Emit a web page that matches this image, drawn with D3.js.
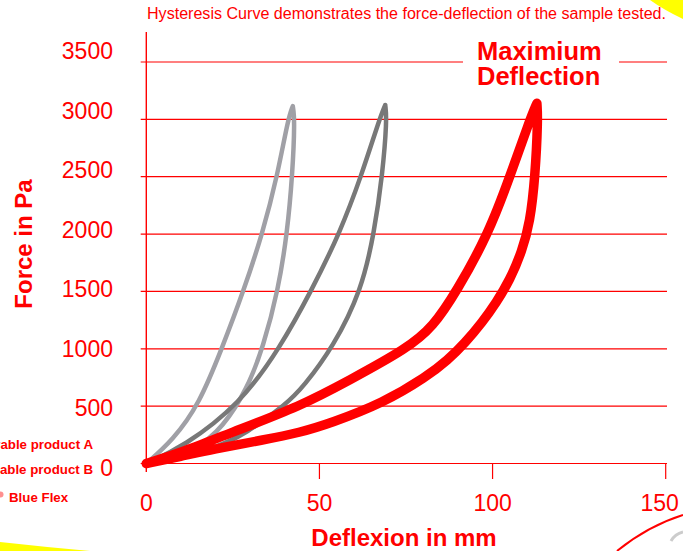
<!DOCTYPE html>
<html><head><meta charset="utf-8">
<script src="https://cdn.jsdelivr.net/npm/d3@7/dist/d3.min.js"></script>
<style>html,body{margin:0;padding:0;background:#fff;overflow:hidden}svg{display:block}</style>
</head><body>
<svg id="c" width="683" height="551"></svg>
<script>
// ---- data ----
const xTicks = [0, 50, 100, 150];
const yTicks = [0, 500, 1000, 1500, 2000, 2500, 3000, 3500];
const legendLabels = ["Comparable product A", "Comparable product B", "Blue Flex"];
const titleText = "Hysteresis Curve demonstrates the force-deflection of the sample tested.";
const xTitle = "Deflexion in mm";
const yTitle = "Force in Pa";
const noteLines = ["Maximium", "Deflection"];

// [deflection mm, force Pa]; each branch runs from origin up to the peak
// product A (light grey)
const productALoad   = [[0,0],[7.7,205],[15.3,518],[21.9,1007],[28.2,1513],[33.6,2010],[37.9,2515],[40.9,3000],[42.3,3115]];
const productAUnload = [[0,0],[14.6,118],[22.2,321],[29.0,641],[33.8,1018],[38.1,1513],[40.7,2010],[42.2,2515],[42.9,3000],[42.3,3115]];
// product B (dark grey)
const productBLoad   = [[0,0],[10.7,145],[27.1,519],[38.6,1007],[47.8,1513],[55.9,2010],[62.2,2515],[67.3,3000],[69.0,3125]];
const productBUnload = [[0,0],[19.3,118],[29.0,266],[40.5,519],[45.3,667],[54.0,1016],[62.2,1513],[65.8,2010],[68.2,2515],[69.5,3000],[69.0,3125]];
// Blue Flex (red)
const blueFlexLoad   = [[0,0],[9.7,91],[24.2,266],[44.6,500],[58.8,728],[75.2,1000],[82.8,1190],[89.6,1500],[98.8,2000],[105.0,2500],[110.8,3000],[112.8,3140]];
const blueFlexUnload = [[0,0],[9.7,60],[19.3,125],[33.8,205],[44.4,270],[53.1,350],[68.4,527],[81.0,757],[87.0,900],[92.0,1050],[97.0,1230],[101.0,1400],[105.0,1600],[108.5,1850],[110.8,2100],[112.3,2500],[113.1,3000],[112.8,3140]];

// ---- drawing ----
const svg = d3.select("#c");
const RED = "#ff0000";
const FONT = "Liberation Sans, Arial, sans-serif";
const x = d3.scaleLinear().domain([0, 150]).range([146.3, 665.7]);
const y = d3.scaleLinear().domain([0, 3500]).range([463.5, 62]);
const yLab = d3.scaleLinear().domain([0, 3500]).range([476, 59]);

// decorations
svg.append("path").attr("d", "M650,0 L683,0 L683,19 Q664,10 650,0 Z").attr("fill", "#ffff00");
svg.append("path").attr("d", "M0,542 Q45,547 90,551 L0,551 Z").attr("fill", "#ffff00");
svg.append("path").attr("d", "M617,551 Q648,526 683,515").attr("fill", "none").attr("stroke", RED).attr("stroke-width", 2);
svg.append("path").attr("d", "M671,541 Q675,534 683,532").attr("fill", "none").attr("stroke", "#cccccc").attr("stroke-width", 3);

// title
svg.append("text").attr("x", 147).attr("y", 18.5).attr("fill", RED)
  .attr("font-family", FONT).attr("font-size", 16)
  .attr("textLength", 519).attr("lengthAdjust", "spacingAndGlyphs").text(titleText);

// gridlines
const grid = svg.append("g").attr("stroke", RED).attr("stroke-width", 1.2);
yTicks.forEach(v => {
  const segs = v === 3500 ? [[140.7, 463], [619, 667]] : [[140.7, 667]];
  segs.forEach(s => grid.append("line").attr("x1", s[0]).attr("x2", s[1]).attr("y1", y(v)).attr("y2", y(v)));
});
// y axis line
svg.append("line").attr("x1", x(0)).attr("x2", x(0)).attr("y1", 32).attr("y2", 472).attr("stroke", RED).attr("stroke-width", 1.4);
// x ticks
xTicks.filter(v => v > 0).forEach(v => {
  svg.append("line").attr("x1", x(v)).attr("x2", x(v)).attr("y1", y(0)).attr("y2", 479).attr("stroke", RED).attr("stroke-width", 1.2);
});

// tick labels
svg.append("g").selectAll("text").data(xTicks).join("text")
  .attr("x", d => x(d)).attr("dx", (d, i) => i === xTicks.length - 1 ? -6 : 0).attr("y", 511).attr("text-anchor", "middle")
  .attr("font-family", FONT).attr("font-size", 23).attr("fill", RED).text(d => d);
svg.append("g").selectAll("text").data(yTicks).join("text")
  .attr("x", 113).attr("y", d => yLab(d)).attr("text-anchor", "end")
  .attr("font-family", FONT).attr("font-size", 23).attr("fill", RED).text(d => d);

// axis titles
svg.append("text").attr("transform", "translate(31.5,244) rotate(-90)").attr("text-anchor", "middle")
  .attr("font-family", FONT).attr("font-weight", "bold").attr("font-size", 24)
  .attr("fill", RED).text(yTitle);
svg.append("text").attr("x", 404).attr("y", 546).attr("text-anchor", "middle")
  .attr("font-family", FONT).attr("font-weight", "bold").attr("font-size", 24)
  .attr("fill", RED).text(xTitle);

// curves (smooth B-spline through each branch)
const line = d3.line().x(d => x(d[0])).y(d => y(d[1])).curve(d3.curveBasis);
const series = [
  {branches: [productALoad, productAUnload], color: "#a0a0a6", w: 4.5},
  {branches: [productBLoad, productBUnload], color: "#787878", w: 4.5},
  {branches: [blueFlexLoad, blueFlexUnload], color: RED, w: 9.5}
];
series.forEach(s => {
  svg.append("path").attr("d", s.branches.map(b => line(b)).join(""))
    .attr("fill", "none").attr("stroke", s.color)
    .attr("stroke-width", s.w).attr("stroke-linejoin", "round").attr("stroke-linecap", "round");
});

// note
noteLines.forEach((t, i) => {
  svg.append("text").attr("x", 477).attr("y", 60 + i * 25).attr("fill", RED)
    .attr("font-family", FONT).attr("font-weight", "bold").attr("font-size", 25.5).text(t);
});

// legend (partly cut at the left edge, as in the reference)
const lg = svg.append("g").attr("font-family", FONT).attr("font-weight", "bold")
  .attr("font-size", 13.3).attr("fill", RED);
lg.append("text").attr("x", 93).attr("y", 449).attr("text-anchor", "end").text(legendLabels[0]);
lg.append("text").attr("x", 93).attr("y", 474).attr("text-anchor", "end").text(legendLabels[1]);
lg.append("circle").attr("cx", 0.5).attr("cy", 494.5).attr("r", 3).attr("fill", "#ff9090");
lg.append("text").attr("x", 9).attr("y", 502).text(legendLabels[2]);
</script>
</body></html>
